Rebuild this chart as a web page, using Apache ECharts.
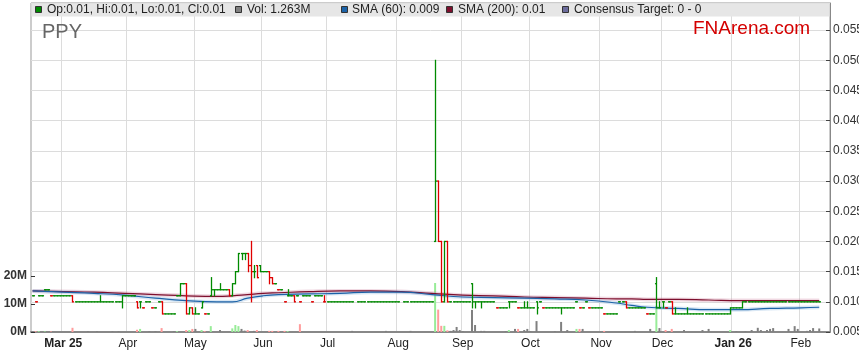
<!DOCTYPE html>
<html><head><meta charset="utf-8">
<script src="https://cdn.jsdelivr.net/npm/echarts@6/dist/echarts.min.js"></script>
<style>html,body{margin:0;padding:0;background:#fff}#c{width:859px;height:363px}</style>
</head><body><div id="c"></div>
<script>
// ---- categories: weekdays from 17 Feb 2025, 260 slots ----
const startDate = [2025, 1, 17];
const slotCount = 260;
const monthNames = ['Jan','Feb','Mar','Apr','May','Jun','Jul','Aug','Sep','Oct','Nov','Dec'];

// ---- daily OHLC (one per weekday, null = no bar) ----
const closePx = [
.011,.010,.011,.011,.012,.012,.011,.011,.011,.011,
.011,.011,.011,.010,.010,.010,.010,.010,.010,.010,
.010,.010,.010,.010,.010,.010,.010,.010,.010,.011,
.011,.011,.011,.011,.009,.010,.009,.010,.010,.009,
.009,.010,.008,.008,.008,.008,.008,.011,.013,.013,
.008,.009,.008,.008,.008,.010,.008,.008,.012,.012,
.012,.012,.012,.012,.011,.013,.015,.018,.018,.018,
.016,.015,.015,.014,.015,.015,.015,.014,.013,.013,
.012,.012,.010,.011,.011,.010,.011,.010,.011,.011,
.011,.010,.011,.011,.011,.010,.010,.010,.010,.010,
.010,.010,.010,.010,.010,null,.010,.010,.010,.010,
.010,.010,.010,.010,.010,.010,.010,.010,.010,.010,
null,.010,.010,.010,.010,.010,.010,.010,.010,.010,
.010,.030,.020,.010,.020,.010,.010,.010,.010,.010,
.010,.010,.010,.010,.010,.010,.010,.010,.010,.010,
.010,.009,.009,.009,.009,.010,.010,.010,.009,.009,
.009,.009,.009,.009,.009,.010,.009,.009,.009,.009,
.009,.009,.009,.009,.009,.009,.009,.010,.009,.009,
.010,.009,.009,.009,.009,.009,.008,.008,.008,.008,
.008,.010,.010,.009,.009,.009,.009,.009,.009,.009,
.008,.008,.008,.009,.009,.010,.009,.010,.008,.008,
.008,.008,.008,.008,.008,.008,.008,.008,.008,.008,
.008,.008,.008,.008,.008,.008,.008,.009,.009,.009,
.009,.010,.010,.010,.010,.010,.010,.010,.010,.010,
.010,.010,.010,.010,.010,.010,.010,.010,.010,.010,
.010,.010,.010,.010,.010,.010,.010];
const openPx = [
.011,.010,.011,.011,.012,.012,.011,.011,.011,.011,
.011,.011,.011,.011,.010,.010,.010,.010,.010,.010,
.010,.010,.010,.010,.010,.010,.010,.010,.010,.010,
.011,.011,.011,.011,.010,.010,.009,.010,.010,.009,
.009,.010,.010,.008,.008,.008,.008,.011,.011,.013,
.013,.008,.009,.008,.008,.009,.008,.008,.011,.012,
.012,.012,.012,.012,.012,.011,.013,.015,.018,.018,
.018,.016,.015,.016,.016,.015,.015,.015,.014,.013,
.012,.012,.010,.011,.011,.011,.011,.010,.011,.011,
.011,.010,.011,.011,.011,.010,.010,.010,.010,.010,
.010,.010,.010,.010,.010,null,.010,.010,.010,.010,
.010,.010,.010,.010,.010,.010,.010,.010,.010,.010,
null,.010,.010,.010,.010,.010,.010,.010,.010,.010,
.010,.020,.030,.020,.010,.020,.010,.010,.010,.010,
.010,.010,.010,.013,.010,.010,.010,.010,.010,.010,
.010,.009,.009,.009,.009,.010,.010,.010,.009,.009,
.009,.009,.009,.009,.010,.010,.009,.009,.009,.009,
.009,.009,.009,.009,.009,.009,.009,.010,.009,.009,
.010,.009,.009,.009,.009,.009,.008,.008,.008,.008,
.008,.010,.010,.010,.009,.009,.009,.009,.009,.009,
.008,.008,.008,.013,.009,.010,.009,.010,.010,.008,
.008,.008,.008,.008,.008,.008,.008,.008,.008,.008,
.008,.008,.008,.008,.008,.008,.008,.008,.009,.009,
.009,.009,.010,.010,.010,.010,.010,.010,.010,.010,
.010,.010,.010,.010,.010,.010,.010,.010,.010,.010,
.010,.010,.010,.010,.010,.010,.010];
const highPx = [
.011,.010,.011,.011,.012,.012,.011,.011,.011,.011,
.011,.011,.011,.011,.010,.010,.010,.010,.010,.010,
.010,.010,.011,.010,.010,.010,.010,.010,.010,.011,
.011,.011,.011,.011,.010,.010,.009,.010,.010,.009,
.009,.010,.010,.008,.008,.008,.008,.011,.013,.013,
.013,.009,.009,.009,.008,.010,.008,.008,.014,.012,
.012,.013,.012,.012,.012,.013,.015,.018,.018,.018,
.018,.020,.016,.016,.016,.015,.015,.015,.014,.013,
.012,.012,.010,.012,.011,.011,.011,.010,.011,.011,
.011,.010,.011,.011,.011,.011,.010,.010,.010,.010,
.010,.010,.010,.010,.010,null,.010,.010,.010,.010,
.010,.010,.010,.010,.010,.010,.010,.010,.010,.010,
null,.010,.010,.010,.010,.010,.010,.010,.010,.010,
.010,.050,.030,.020,.020,.020,.010,.010,.010,.010,
.010,.010,.010,.013,.010,.010,.010,.010,.010,.010,
.010,.009,.009,.009,.009,.010,.010,.010,.009,.009,
.010,.010,.009,.009,.010,.010,.009,.009,.009,.009,
.009,.009,.009,.009,.009,.009,.009,.010,.009,.009,
.010,.009,.009,.009,.009,.009,.008,.008,.008,.008,
.008,.010,.010,.010,.009,.009,.009,.009,.009,.009,
.008,.008,.008,.014,.010,.010,.009,.010,.010,.009,
.008,.008,.008,.009,.008,.008,.008,.008,.008,.008,
.008,.008,.008,.008,.008,.008,.008,.009,.009,.009,
.009,.010,.010,.010,.010,.010,.010,.010,.010,.010,
.010,.010,.010,.010,.010,.010,.010,.010,.010,.010,
.010,.010,.010,.010,.010,.010,.010];
const lowPx = [
.011,.010,.011,.011,.012,.012,.011,.011,.011,.011,
.011,.011,.011,.010,.010,.010,.010,.010,.010,.010,
.010,.010,.010,.010,.010,.010,.010,.010,.010,.009,
.011,.011,.011,.011,.009,.009,.009,.010,.010,.009,
.009,.010,.008,.008,.008,.008,.008,.011,.011,.013,
.008,.008,.008,.008,.008,.009,.008,.008,.011,.011,
.012,.012,.012,.012,.011,.011,.013,.015,.017,.017,
.015,.010,.014,.014,.015,.015,.015,.013,.013,.013,
.012,.012,.010,.011,.011,.010,.011,.010,.011,.011,
.011,.010,.011,.011,.011,.010,.010,.010,.010,.010,
.010,.010,.010,.010,.010,null,.010,.010,.010,.010,
.010,.010,.010,.010,.010,.010,.010,.010,.010,.010,
null,.010,.010,.010,.010,.010,.010,.010,.010,.010,
.010,.020,.020,.010,.010,.010,.010,.010,.010,.010,
.010,.010,.010,.009,.009,.010,.009,.010,.010,.010,
.010,.009,.009,.009,.009,.009,.010,.010,.009,.009,
.009,.009,.009,.009,.008,.010,.009,.009,.009,.009,
.009,.009,.008,.009,.009,.009,.009,.010,.009,.009,
.010,.009,.009,.009,.009,.009,.008,.008,.008,.008,
.008,.010,.010,.009,.009,.009,.009,.009,.009,.009,
.008,.008,.008,.009,.009,.009,.009,.010,.008,.008,
.008,.008,.008,.008,.008,.008,.008,.008,.008,.008,
.008,.008,.008,.008,.008,.008,.008,.008,.009,.009,
.009,.009,.010,.010,.010,.010,.010,.010,.010,.010,
.010,.010,.010,.010,.010,.010,.010,.010,.010,.010,
.010,.010,.010,.010,.010,.010,.010];
// ---- daily volume, millions ----
const volumeM = [
0.2,0.3,0.3,0,0.2,0,0.2,0,0,0,
0,0,0,1.5,0,0,0,0,0.3,0,
0,0.3,0,0,0,0,0.3,0,0.3,0,
0,0,0,0,0.8,1.1,0,0,0.3,0,
0.3,0,1.4,0,0,0,0.3,0.3,0,0,
0.7,0.7,1.1,1.1,0,0.7,0.3,0,2.1,0,
0,0.7,0,0,0,1.3,2.5,2.1,1.1,0.5,
0.7,0,0.4,0.7,0,0,0,0.4,0.4,0,
0.4,0,0.4,0.3,0,0,0,2.8,0,0,
0,0,0,0,0,0,0,0,0,0,
0,0,0,0,0.4,null,0,0,0,0,
0,0,0,0,0,0.4,0,0,0,0,
null,0,0,0.4,0,0,0,0,0,0,
0,17.5,8.0,2.2,2.2,0.6,0.4,0.7,1.8,0.7,
0.3,0,0,7.9,2.5,0,0.4,0.4,0,0,
0,0,0,0,0.3,0.7,0,1.1,1.1,0,
0.7,1.1,0.3,0,3.9,0,0,0,0,0,
0.3,0,3.6,0,0.7,0,0,1.1,1.1,1.1,
0,0,0,0,0,0,0.4,0,0,0,
0,0,0,0,0,0,0.4,0,0,0,
0,1.1,0,9.3,1.4,0,0.7,0,1.1,0,
0,0,0.7,0,0,0,0,0,0.7,0,
1.1,0,0,0,0,0,0,0.7,0,0.3,
0,0,0.3,0,0.7,0,1.5,0.7,0,0.7,
1.1,1.4,0,0,0,0,1.1,0,2.1,1.1,
0,0,0.4,0.7,1.4,0,1.263];
// ---- moving averages, read at sample days ----
const smaIdx = [0,10,20,30,40,50,60,65,70,75,80,90,100,110,120,130,140,150,160,170,180,190,195,200,210,220,230,240,250,256];
const sma60 = [.0118,.0116,.0114,.0111,.0106,.0102,.0100,.0100,.0106,.0110,.0112,.0113,.0114,.0116,.0116,.0112,.0108,.0107,.0106,.0105,.0103,.0098,.0094,.0091,.0089,.0087,.0087,.0089,.0090,.0091];
const sma200 = [.0118,.0117,.0116,.0114,.0112,.0110,.0109,.0110,.0112,.0114,.0115,.0117,.0118,.0118,.0117,.0114,.0111,.0110,.0108,.0107,.0106,.0105,.0105,.0104,.0104,.0103,.0102,.0102,.0102,.0102];
// ---- axis ticks ----
const priceTicks = {min: 0.005, interval: 0.005};
const volTicks = {min: 0, max: 20, interval: 10};
const legendTexts = ['Op:0.01, Hi:0.01, Lo:0.01, Cl:0.01','Vol: 1.263M','SMA (60): 0.009','SMA (200): 0.01','Consensus Target: 0 - 0'];

// build categories
const cats = [], monthStart = {};
{
  let d = new Date(Date.UTC(startDate[0], startDate[1], startDate[2]));
  let prevM = -1, first = true;
  while (cats.length < slotCount) {
    const wd = d.getUTCDay();
    if (wd !== 0 && wd !== 6) {
      const m = d.getUTCMonth();
      const idx = cats.length;
      cats.push(d.toISOString().slice(0, 10));
      if (prevM !== -1 && m !== prevM) {
        const yr = String(d.getUTCFullYear()).slice(2);
        monthStart[idx] = (first || m === 0) ? '{b|' + monthNames[m] + ' ' + yr + '}' : monthNames[m];
        first = false;
      }
      prevM = m;
    }
    d.setUTCDate(d.getUTCDate() + 1);
  }
}
const isMonth = (i) => monthStart[i] !== undefined;

const GREEN = '#008a00', RED = '#e00000';
const ohlc = [], vol = [];
let prevC = null;
for (let i = 0; i < closePx.length; i++) {
  if (closePx[i] == null) { continue; }
  const c = closePx[i];
  const down = prevC != null && c < prevC ? 1 : 0;
  const up = prevC != null && c > prevC;
  ohlc.push([i, openPx[i], highPx[i], lowPx[i], c, down]);
  if (volumeM[i]) {
    vol.push({value: [i, volumeM[i]], itemStyle: {color: up ? '#98ec98' : (down ? '#ff9c9c' : '#808080')}});
  }
  prevC = c;
}

function renderOHLC(params, api) {
  const i = api.value(0);
  const pO = api.coord([i, api.value(1)]);
  const pH = api.coord([i, api.value(2)]);
  const pL = api.coord([i, api.value(3)]);
  const pC = api.coord([i, api.value(4)]);
  const half = api.size([1, 0])[0] / 2;
  const x = Math.round(pH[0]) + 0.5;
  const style = {stroke: api.value(5) ? RED : GREEN, lineWidth: 1.3};
  return {type: 'group', children: [
    {type: 'line', shape: {x1: x, y1: pH[1] - 0.6, x2: x, y2: pL[1] + 0.6}, style},
    {type: 'line', shape: {x1: x - half, y1: pO[1], x2: x, y2: pO[1]}, style},
    {type: 'line', shape: {x1: x, y1: pC[1], x2: x + half, y2: pC[1]}, style}
  ]};
}

const FONT = '"Liberation Sans", Arial, sans-serif';
const smaPts = (arr) => smaIdx.map((ix, k) => [ix, arr[k]]);

const legendPos = [[35, 47, GREEN], [235, 247, '#808080'], [341, 352, '#1c63a8'], [446, 458, '#7d0f2d'], [562, 574, '#6c6c9c']];
const graphic = [{type: 'rect', z: 100, shape: {x: 31.5, y: 3.5, width: 798, height: 13}, style: {fill: '#e6e6e6'}}];
legendPos.forEach((p, k) => {
  graphic.push({type: 'rect', z: 101, shape: {x: p[0] + 0.5, y: 6.5, width: 6, height: 6}, style: {fill: p[2], stroke: '#333', lineWidth: 1}});
  graphic.push({type: 'text', z: 101, style: {x: p[1], y: 10, text: legendTexts[k], fill: '#222', font: '12px ' + FONT, verticalAlign: 'middle'}});
});
graphic.push({type: 'text', z: 101, style: {x: 42, y: 32, text: 'PPY', fill: '#666', font: '20px ' + FONT, verticalAlign: 'middle'}});
graphic.push({type: 'text', z: 101, style: {x: 693, y: 29, text: 'FNArena.com', fill: '#d40000', font: '19px ' + FONT, verticalAlign: 'middle'}});

const chart = echarts.init(document.getElementById('c'));
chart.setOption({
  animation: false,
  backgroundColor: '#fff',
  textStyle: {fontFamily: FONT},
  grid: [
    {left: 31, right: 29, top: 3, bottom: 31, show: true, borderColor: '#999', borderWidth: 1, outerBoundsMode: 'none', containLabel: false},
    {left: 31, right: 29, bottom: 31, height: 56, outerBoundsMode: 'none', containLabel: false}
  ],
  xAxis: [
    {gridIndex: 0, type: 'category', data: cats, boundaryGap: true,
     axisLine: {show: true, lineStyle: {color: '#888', width: 2}},
     axisTick: {show: false},
     axisLabel: {interval: (i) => isMonth(i), formatter: (v, i) => monthStart[i] || '', margin: 6, fontSize: 12, color: '#222', fontFamily: FONT,
       rich: {b: {fontWeight: 'bold', fontSize: 12, color: '#222', fontFamily: FONT}}},
     splitLine: {show: true, interval: (i) => isMonth(i), lineStyle: {color: '#dcdcdc'}}},
    {gridIndex: 1, type: 'category', data: cats, boundaryGap: true, show: false}
  ],
  yAxis: [
    {gridIndex: 0, type: 'value', position: 'right', min: priceTicks.min, max: 0.0595, interval: priceTicks.interval,
     axisLine: {show: true, lineStyle: {color: '#888'}},
     axisTick: {show: true, inside: true, length: 4, lineStyle: {color: '#444'}},
     axisLabel: {showMaxLabel: false, formatter: (v) => v.toFixed(3), margin: 3, fontSize: 12, color: '#333', fontFamily: FONT},
     splitLine: {show: true, lineStyle: {color: '#dcdcdc'}}},
    {gridIndex: 1, type: 'value', position: 'left', min: volTicks.min, max: volTicks.max, interval: volTicks.interval,
     axisLine: {show: false},
     axisTick: {show: true, inside: true, length: 4, lineStyle: {color: '#333'}},
     axisLabel: {formatter: (v) => v + 'M', margin: 4, fontSize: 12, fontWeight: 'bold', color: '#333', fontFamily: FONT},
     splitLine: {show: false}}
  ],
  series: [
    {type: 'bar', xAxisIndex: 1, yAxisIndex: 1, data: vol, barWidth: 2, z: 1},
    {type: 'line', xAxisIndex: 0, yAxisIndex: 0, data: smaPts(sma200), smooth: 0.5, symbol: 'none', z: 2,
     lineStyle: {color: 'rgba(200,120,150,0.28)', width: 4}},
    {type: 'line', xAxisIndex: 0, yAxisIndex: 0, data: smaPts(sma60), smooth: 0.5, symbol: 'none', z: 2,
     lineStyle: {color: 'rgba(120,170,215,0.28)', width: 4}},
    {type: 'line', xAxisIndex: 0, yAxisIndex: 0, data: smaPts(sma200), smooth: 0.5, symbol: 'none', z: 3,
     lineStyle: {color: '#7d0f2d', width: 1.2}},
    {type: 'line', xAxisIndex: 0, yAxisIndex: 0, data: smaPts(sma60), smooth: 0.5, symbol: 'none', z: 3,
     lineStyle: {color: '#1c63a8', width: 1.2}},
    {type: 'custom', xAxisIndex: 0, yAxisIndex: 0, data: ohlc, renderItem: renderOHLC, z: 4,
     encode: {x: 0, y: [1, 2, 3, 4]}}
  ],
  graphic
});
</script></body></html>
